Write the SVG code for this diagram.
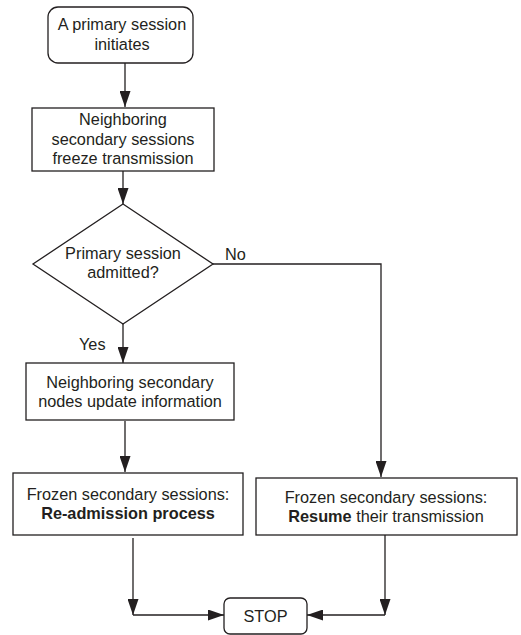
<svg xmlns="http://www.w3.org/2000/svg" width="521" height="635" viewBox="0 0 521 635">
<style>
.n{fill:#fff;stroke:#231f20;stroke-width:1.3}
.t{font-family:"Liberation Sans",Arial,sans-serif;font-size:16.3px;fill:#231f20;text-anchor:middle}
.l{font-family:"Liberation Sans",Arial,sans-serif;font-size:16.3px;fill:#231f20}
.c{fill:none;stroke:#231f20;stroke-width:1.3}
.b{font-weight:bold}
</style>
<defs>
<marker id="a" markerUnits="userSpaceOnUse" markerWidth="16" markerHeight="11" viewBox="0 0 16 11" refX="16" refY="5.5" orient="auto">
<path d="M0,0 L16,5.5 L0,11 z" fill="#231f20"/>
</marker>
</defs>
<g id="connectors">
<line class="c" x1="125" y1="63" x2="125" y2="107" marker-end="url(#a)"/>
<line class="c" x1="123" y1="171" x2="123" y2="204" marker-end="url(#a)"/>
<line class="c" x1="123" y1="324" x2="123" y2="363" marker-end="url(#a)"/>
<line class="c" x1="125" y1="421" x2="125" y2="472" marker-end="url(#a)"/>
<polyline class="c" points="213,264 381,264 381,477" marker-end="url(#a)"/>
<line class="c" x1="133" y1="538" x2="133" y2="615" marker-end="url(#a)"/>
<line class="c" x1="133" y1="615" x2="224" y2="615" marker-end="url(#a)"/>
<line class="c" x1="385" y1="535" x2="385" y2="615" marker-end="url(#a)"/>
<line class="c" x1="385" y1="615" x2="307" y2="615" marker-end="url(#a)"/>
<text class="l" x="225" y="260">No</text>
<text class="l" x="79" y="350">Yes</text>
</g>
<g id="start">
<rect class="n" x="48" y="7" width="145" height="56" rx="10"/>
<text class="t" x="122" y="30">A primary session</text>
<text class="t" x="122" y="50">initiates</text>
</g>
<g id="freeze">
<rect class="n" x="32" y="108" width="182" height="63"/>
<text class="t" x="123" y="125">Neighboring</text>
<text class="t" x="123" y="144.5">secondary sessions</text>
<text class="t" x="123" y="164">freeze transmission</text>
</g>
<g id="decision">
<polygon class="n" points="123,204 213,264 123,324 33,264"/>
<text class="t" x="123" y="259">Primary session</text>
<text class="t" x="123" y="278">admitted?</text>
</g>
<g id="update">
<rect class="n" x="26" y="363" width="208" height="57"/>
<text class="t" x="130" y="388">Neighboring secondary</text>
<text class="t" x="130" y="407">nodes update information</text>
</g>
<g id="readmission">
<rect class="n" x="13" y="473" width="230" height="62"/>
<text class="t" x="128" y="500">Frozen secondary sessions:</text>
<text class="t b" x="128" y="519">Re-admission process</text>
</g>
<g id="resume">
<rect class="n" x="256" y="478" width="261" height="57"/>
<text class="t" x="386" y="503">Frozen secondary sessions:</text>
<text class="t" x="386" y="522"><tspan class="b">Resume</tspan> their transmission</text>
</g>
<g id="stop">
<rect class="n" x="224" y="598" width="83" height="36" rx="6"/>
<text class="t" x="265.5" y="622">STOP</text>
</g>
</svg>
